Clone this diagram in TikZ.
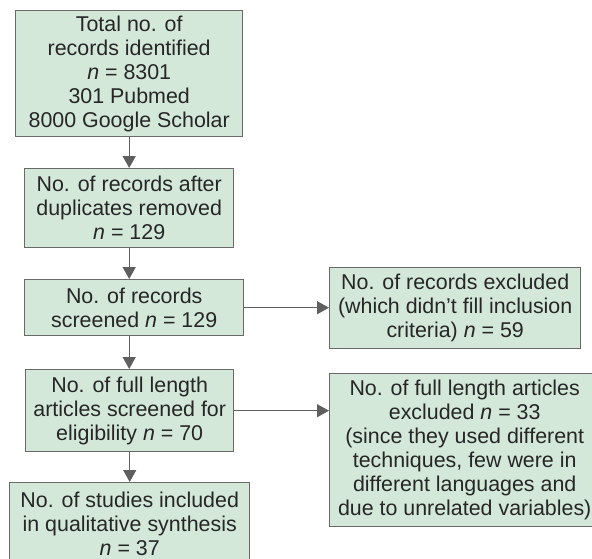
\documentclass[tikz,border=0pt]{standalone}
\usepackage{fontspec}
\setmainfont{Liberation Sans}
\usetikzlibrary{arrows.meta}
\definecolor{boxfill}{RGB}{211,232,217}
\definecolor{boxline}{RGB}{105,105,105}
\definecolor{arrline}{RGB}{95,95,95}
\begin{document}
\begin{tikzpicture}[x=1pt, y=1pt,
        stage/.style={rectangle, draw=boxline, line width=1.4pt, fill=boxfill, text=black!85,
            align=center, inner sep=0pt, anchor=north west,
            font=\fontsize{21.4}{24}\selectfont},
        flow/.style={draw=arrline, line width=1.4pt, -{Triangle[length=12pt, width=13pt]}}]
    \useasboundingbox (0,0) rectangle (592,-558);
    \clip (0,0) rectangle (592,-558);
    \node[stage, minimum width=227, minimum height=126] (total) at (15,-10)
        {Total no. of\\records identified\\\textit{n} = 8301\\301 Pubmed\\8000 Google Scholar};
    \node[stage, minimum width=209, minimum height=79] (dup) at (24,-168)
        {No. of records after\\duplicates removed\\\textit{n} = 129};
    \node[stage, minimum width=219, minimum height=56] (screen) at (24,-279)
        {No. of records\\screened \textit{n} = 129};
    \node[stage, minimum width=208, minimum height=82] (full) at (25,-369)
        {No. of full length\\articles screened for\\eligibility \textit{n} = 70};
    \node[stage, minimum width=240, minimum height=82] (incl) at (9,-482)
        {No. of studies included\\in qualitative synthesis\\\textit{n} = 37};
    \node[stage, minimum width=251, minimum height=81] (exrec) at (329,-267)
        {No. of records excluded\\(which didn’t fill inclusion\\criteria) \textit{n} = 59};
    \node[stage, minimum width=270, minimum height=153] (exfull) at (329,-373)
        {No. of full length articles\\excluded \textit{n} = 33\\(since they used different\\techniques, few were in\\different languages and\\due to unrelated variables)};
    % vertical flow
    \draw[flow] (total) -- (dup);
    \draw[flow] (dup.south) -- (dup.south |- screen.north);
    \draw[flow] (dup.south |- screen.south) -- (dup.south |- full.north);
    \draw[flow] (full.south) -- (full.south |- incl.north);
    % exclusions
    \draw[flow] (screen) -- (screen -| exrec.west);
    \draw[flow] (full) -- (full -| exfull.west);
\end{tikzpicture}
\end{document}
